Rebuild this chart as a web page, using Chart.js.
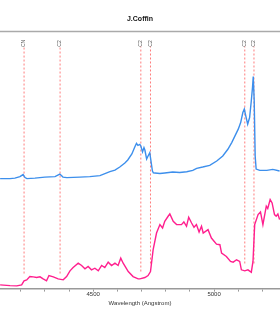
<!DOCTYPE html>
<html>
<head>
<meta charset="utf-8">
<script src="https://cdn.jsdelivr.net/npm/chart.js@4.4.1/dist/chart.umd.min.js"></script>
<style>
  html, body { margin: 0; padding: 0; background: #fff; }
  canvas { display: block; }
</style>
</head>
<body>
<canvas id="spectrum" width="280" height="320"></canvas>
<script>
// upper spectrum (blue)
const blueWave = [4115, 4156, 4176, 4197, 4210, 4218, 4226, 4259, 4300, 4342, 4362, 4375, 4391, 4445, 4486,
    4528, 4569, 4590, 4610, 4631, 4643, 4660, 4672, 4679, 4685, 4693, 4697, 4704, 4710, 4714, 4721, 4727,
    4734, 4738, 4745, 4749, 4755, 4776, 4796, 4829, 4858, 4887, 4912, 4928, 4953, 4982, 5011, 5036, 5057,
    5073, 5090, 5100, 5110, 5119, 5125, 5133, 5139, 5147, 5154, 5159, 5162, 5166, 5170, 5174, 5189, 5218,
    5243, 5271];
const blueFlux = [109.5, 109.5, 110, 111.5, 113.5, 110.5, 109.5, 110, 111, 111.5, 114, 111, 110.5, 111, 111.5,
    112.5, 116.5, 118, 121, 125, 128, 134, 141, 144.5, 142.5, 143.5, 142, 136, 140.3, 137.7, 129, 132,
    135.3, 128.7, 117, 115.3, 115, 114.5, 115, 116, 115.5, 116.3, 117.7, 119.7, 121, 122.7, 127, 132, 138.7,
    145.3, 153.7, 158.7, 165.3, 175.3, 178.7, 170, 163.7, 170.3, 187, 200.3, 211, 187, 132, 119, 117.7, 117.7,
    118.7, 117];

// lower spectrum (pink)
const pinkWave = [4115, 4156, 4184, 4204, 4214, 4225, 4238, 4252, 4266, 4280, 4293, 4307, 4317, 4335, 4355,
    4376, 4390, 4404, 4417, 4438, 4452, 4466, 4479, 4493, 4507, 4521, 4535, 4548, 4562, 4576, 4590, 4603,
    4614, 4624, 4645, 4665, 4686, 4693, 4714, 4727, 4737, 4748, 4762, 4776, 4787, 4796, 4810, 4817, 4831,
    4845, 4865, 4875, 4886, 4895, 4907, 4917, 4927, 4938, 4948, 4955, 4975, 4989, 5010, 5024, 5031, 5051,
    5068, 5079, 5093, 5106, 5113, 5127, 5140, 5154, 5161, 5168, 5182, 5192, 5202, 5216, 5222, 5232, 5240,
    5250, 5257, 5264, 5271];
const pinkFlux = [3.7, 3, 2.7, 3.7, 7.7, 8.7, 12, 11.7, 11, 11.7, 9.7, 7.7, 13, 11.7, 9.7,
    8.7, 12, 17.7, 21, 25.3, 23, 19.7, 22, 18.7, 20.3, 17.7, 23, 21, 26.3, 23, 25.3, 23,
    30.3, 25.3, 17, 12, 9.7, 9.7, 11, 13, 17, 38.7, 55.3, 63.7, 60.3, 67, 72, 74.3, 67,
    63.7, 63.7, 66.3, 62, 71, 65.3, 61, 63.7, 56.3, 62, 55.3, 58.7, 50.3, 44.3, 43.7, 35.3, 32,
    27, 26.3, 28.7, 27, 18.7, 17.7, 18.7, 16.3, 27, 63.7, 73.7, 76.3, 63.7, 82, 79.7, 88.7, 85.3,
    73.7, 72, 74.3, 68.7];

// band markers
const markWave = [4214, 4363, 4697, 4737, 5127, 5165];
const markLabel = ["CN", "C2", "C2", "C2", "C2", "C2"];
const markBottom = [15, 15, 17, 25, 25, 25];
const markTop = 241;

// x axis
const tickWave = [4200, 4300, 4400, 4500, 4600, 4700, 4800, 4900, 5000, 5100, 5200];
const labelWave = [4500, 5000];
const waveMin = 4114.5;
const waveMax = 5272.7;

const toPoints = (xs, ys) => xs.map((x, i) => ({ x: x, y: ys[i] }));

const datasets = [
    {
        label: "blue",
        data: toPoints(blueWave, blueFlux),
        borderColor: "#3d8fec",
        borderWidth: 1.4,
        pointRadius: 0,
        tension: 0
    },
    {
        label: "pink",
        data: toPoints(pinkWave, pinkFlux),
        borderColor: "#ff1f8e",
        borderWidth: 1.4,
        pointRadius: 0,
        tension: 0
    }
];

markWave.forEach(function (w, i) {
    datasets.push({
        label: markLabel[i],
        data: [{ x: w, y: markBottom[i] }, { x: w, y: markTop }],
        borderColor: "rgba(255, 70, 70, 0.7)",
        borderWidth: 1,
        borderDash: [2, 2],
        pointRadius: 0
    });
});

// frame line on top + rotated marker labels
const decorations = {
    id: "decorations",
    beforeDatasetsDraw(chart) {
        const ctx = chart.ctx;
        const area = chart.chartArea;
        ctx.save();
        ctx.strokeStyle = "#aaa";
        ctx.lineWidth = 1.5;
        ctx.beginPath();
        ctx.moveTo(0, area.top);
        ctx.lineTo(chart.width, area.top);
        ctx.stroke();
        ctx.restore();
    },
    afterDatasetsDraw(chart) {
        const ctx = chart.ctx;
        const xs = chart.scales.x;
        const ys = chart.scales.y;
        ctx.save();
        ctx.fillStyle = "#555";
        ctx.font = "5px 'Liberation Sans', Arial, sans-serif";
        ctx.textAlign = "center";
        ctx.textBaseline = "middle";
        markWave.forEach(function (w, i) {
            const px = xs.getPixelForValue(w);
            const py = ys.getPixelForValue(markTop) - 3;
            ctx.save();
            ctx.translate(px, py);
            ctx.rotate(-Math.PI / 2);
            ctx.fillText(markLabel[i], 0, 0);
            ctx.restore();
        });
        ctx.restore();
    }
};

new Chart(document.getElementById("spectrum"), {
    type: "line",
    data: { datasets },
    plugins: [decorations],
    options: {
        responsive: false,
        animation: false,
        layout: { padding: { top: 0, bottom: 13, left: 0, right: 0 } },
        plugins: {
            legend: { display: false },
            tooltip: { enabled: false },
            title: {
                display: true,
                text: "J.Coffin",
                color: "#111",
                font: { family: "'Liberation Sans', Arial, sans-serif", size: 7, weight: "bold" },
                padding: { top: 15, bottom: 8 }
            }
        },
        scales: {
            x: {
                type: "linear",
                min: waveMin,
                max: waveMax,
                afterBuildTicks: s => { s.ticks = tickWave.map(v => ({ value: v })); },
                ticks: {
                    color: "#333",
                    font: { family: "'Liberation Sans', Arial, sans-serif", size: 6 },
                    padding: -1,
                    maxRotation: 0,
                    autoSkip: false,
                    callback: v => labelWave.includes(v) ? String(v) : ""
                },
                grid: { drawOnChartArea: false, drawTicks: true, tickLength: 3, color: "#999" },
                border: { color: "#999", width: 1.5 },
                title: {
                    display: true,
                    text: "Wavelength (Angstrom)",
                    color: "#333",
                    font: { family: "'Liberation Sans', Arial, sans-serif", size: 6 },
                    padding: { top: 3, bottom: 0 }
                }
            },
            y: {
                display: false,
                min: 0,
                max: 256
            }
        }
    }
});
</script>
</body>
</html>
